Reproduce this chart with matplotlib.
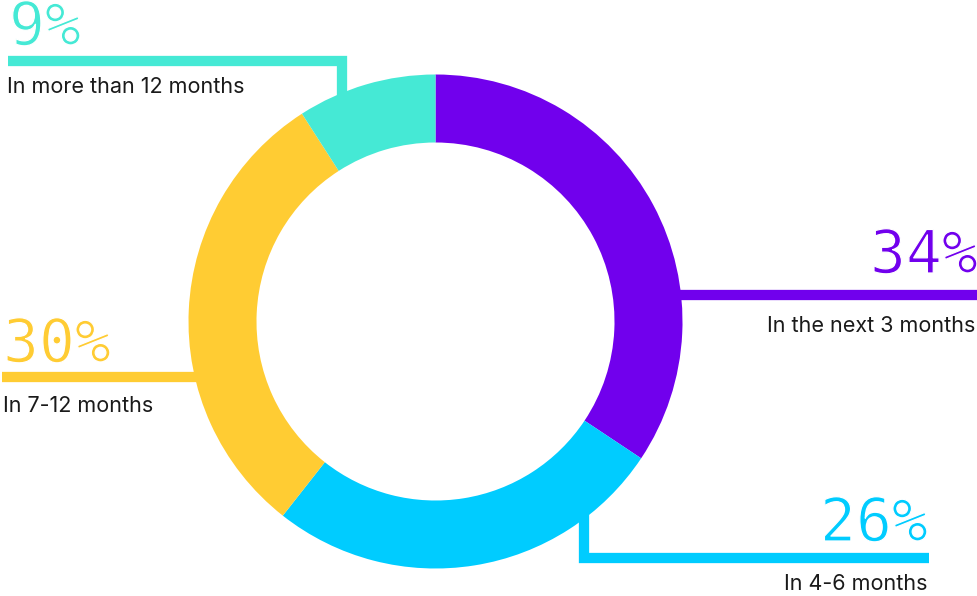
import matplotlib.pyplot as plt
import matplotlib.patheffects as pe

# share of respondents by planned timing
labels = ["In the next 3 months", "In 4-6 months", "In 7-12 months", "In more than 12 months"]
values = [34, 26, 30, 9]
colors = ["#7100ED", "#00CCFF", "#FFCC33", "#45E9D5"]

W, H = 977, 596
fig = plt.figure(figsize=(W / 100, H / 100), dpi=100)
ax = fig.add_axes([0, 0, 1, 1])

# work in pixel-like units, y measured from the top
def fy(py):
    return H - py

cx, cy = 435.5, 321.5
R, ring = 247, 68

ax.pie(values, colors=colors, startangle=90, counterclock=False,
       center=(cx, fy(cy)), radius=R, normalize=True,
       wedgeprops=dict(width=ring, linewidth=0), frame=True)

# leader lines (x, y) in pixels, drawn under the ring
leaders = [
    [(677, 294.5), (977, 294.5)],
    [(584, 505), (584, 557.5), (929, 557.5)],
    [(2, 377), (200, 377)],
    [(8, 61), (342, 61), (342, 110)],
]
for pts, c in zip(leaders, colors):
    xs = [p[0] for p in pts]
    ys = [fy(p[1]) for p in pts]
    ax.plot(xs, ys, color=c, lw=7.4, solid_capstyle="butt",
            solid_joinstyle="miter", zorder=0)

# white outline trims the mono digits down to a lighter weight
thin = [pe.Stroke(linewidth=0.9, foreground="white")]
pct_font = dict(family="DejaVu Sans Mono", fontsize=43)
lab_font = dict(family="Inter", fontsize=15.5, color="#1a1a1a")

# value labels: (x, baseline y, alignment)
pct_pos = [(978, 273, "right"), (928, 541, "right"), (3, 362, "left"), (9, 45, "left")]
lab_pos = [(975, 332, "right"), (927, 590, "right"), (3, 412, "left"), (7, 93, "left")]

for v, c, (x, y, ha) in zip(values, colors, pct_pos):
    ax.text(x, fy(y), f"{v}%", color=c, ha=ha, va="baseline",
            path_effects=thin, **pct_font)
for lab, (x, y, ha) in zip(labels, lab_pos):
    ax.text(x, fy(y), lab, ha=ha, va="baseline", **lab_font)

ax.set_xlim(0, W)
ax.set_ylim(0, H)
ax.set_aspect("auto")
ax.axis("off")

fig.savefig("out.png", dpi=100)
